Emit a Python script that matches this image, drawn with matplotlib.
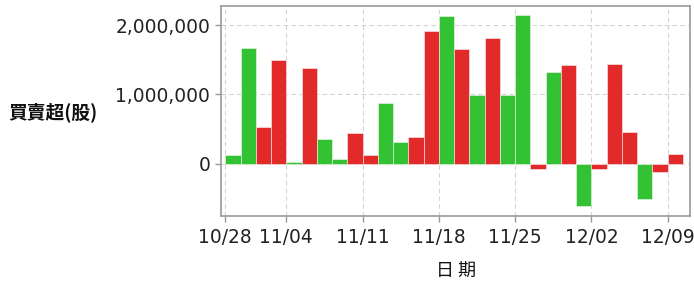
import matplotlib
matplotlib.use('Agg')
import matplotlib.pyplot as plt
from matplotlib.ticker import FuncFormatter

# trading days (2024), 10/31 closed for typhoon
dates = ['10/28', '10/29', '10/30', '11/01',
         '11/04', '11/05', '11/06', '11/07', '11/08',
         '11/11', '11/12', '11/13', '11/14', '11/15',
         '11/18', '11/19', '11/20', '11/21', '11/22',
         '11/25', '11/26', '11/27', '11/28', '11/29',
         '12/02', '12/03', '12/04', '12/05', '12/06',
         '12/09']
net_shares = [130000, 1674000, 537000, 1496000,
              29000, 1376000, 355000, 72000, 441000,
              134000, 873000, 312000, 388000, 1914000,
              2134000, 1650000, 988000, 1808000, 988000,
              2149000, -67000, 1329000, 1420000, -614000,
              -67000, 1439000, 465000, -508000, -110000,
              144000]
# 'G' = green bar, 'R' = red bar
bar_side = list('GGRRGRGGRRGGRRGRGRGGRGRGRRRGRR')
tick_labels = ['10/28', '11/04', '11/11', '11/18', '11/25', '12/02', '12/09']
y_ticks = [0, 1000000, 2000000]

green = '#33c233'
red = '#e32a2a'
colors = [green if s == 'G' else red for s in bar_side]

fig = plt.figure(figsize=(6.94, 2.86), dpi=100)
ax = fig.add_axes([0.318, 0.245, 0.676, 0.734])

x = list(range(len(dates)))
ax.bar(x, net_shares, width=1.0, align='edge', color=colors,
       edgecolor='#f4f4f4', linewidth=0.4, zorder=3)

ax.set_xlim(-0.3, 30.45)
ax.set_ylim(-750000, 2275000)

tick_pos = [dates.index(t) for t in tick_labels]
ax.set_xticks(tick_pos)
ax.set_xticklabels(tick_labels)
ax.set_yticks(y_ticks)
ax.yaxis.set_major_formatter(FuncFormatter(lambda v, p: '{:,.0f}'.format(v)))

ax.grid(True, color='#d4d4d4', linestyle=(0, (4, 3)), linewidth=0.8, zorder=0)
for s in ax.spines.values():
    s.set_color('#999999')
    s.set_linewidth(1.2)
ax.tick_params(colors='#999999', labelcolor='#222222', length=4, width=1.0,
               labelsize=13.4)
ax.tick_params(axis='x', pad=5)
for lab in ax.get_xticklabels() + ax.get_yticklabels():
    lab.set_family('DejaVu Sans')

cjk = ['Noto Sans CJK TC', 'DejaVu Sans']
fig.text(8 / 694, 1 - 112 / 286, '買賣超(股)', family=cjk, fontsize=13.5,
         fontweight='bold', ha='left', va='center', color='#111111')
fig.text(456 / 694, 1 - 272 / 286, '日 期', family=cjk, fontsize=13,
         ha='center', va='center', color='#111111')

fig.savefig('out.png', dpi=100)
